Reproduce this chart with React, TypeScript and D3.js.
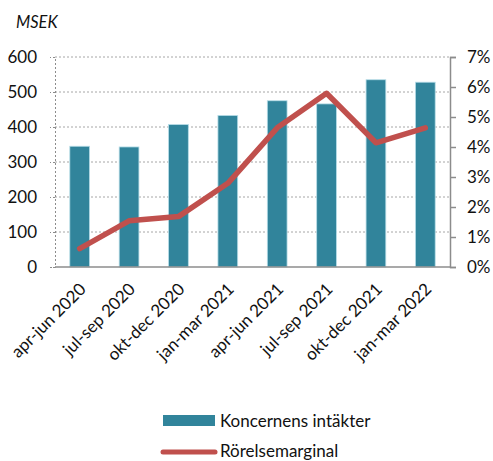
import React, {useEffect, useRef} from 'react';
import * as d3 from 'd3';

const categories = ['apr-jun 2020', 'jul-sep 2020', 'okt-dec 2020', 'jan-mar 2021', 'apr-jun 2021', 'jul-sep 2021', 'okt-dec 2021', 'jan-mar 2022'];
const revenue = [345, 343, 407, 433, 475, 466, 535, 528];
const margin = [0.61, 1.54, 1.68, 2.79, 4.64, 5.79, 4.14, 4.64];
const leftTicks = [0, 100, 200, 300, 400, 500, 600];
const rightTicks = [0, 1, 2, 3, 4, 5, 6, 7];

const W = 493;
const H = 461;
const FONT = 'Lato, "Open Sans", sans-serif';

const App: React.FC = () => {
    const svgRef = useRef<SVGSVGElement>(null);

    useEffect(() => {
        const svg = d3.select(svgRef.current);
        svg.selectAll('*').remove();

        const left = 55, right = 450, top = 57, bottom = 267;

        const x = d3.scaleBand<string>().domain(categories).range([left, right]).paddingInner(0.6).paddingOuter(0.3);
        const xc = (c: string) => (x(c) ?? 0) + x.bandwidth() / 2;
        const y = d3.scaleLinear().domain([0, 600]).range([bottom, top]);
        const y2 = d3.scaleLinear().domain([0, 7]).range([bottom, top]);

        // grid
        svg.append('g')
            .selectAll('line')
            .data(leftTicks.filter(t => t > 0))
            .enter().append('line')
            .attr('x1', left).attr('x2', right)
            .attr('y1', d => y(d)).attr('y2', d => y(d))
            .attr('stroke', '#a6a6a6')
            .attr('stroke-width', 1)
            .attr('stroke-dasharray', '2,2');

        // left axis (dotted)
        const gl = svg.append('g').attr('transform', `translate(${left},0)`)
            .call(d3.axisLeft(y).tickValues(leftTicks).tickSize(5).tickPadding(13));
        gl.selectAll('line, path').attr('stroke', '#8c8c8c').attr('stroke-dasharray', '2,2');
        gl.selectAll('text').style('font-family', FONT).style('font-size', '17px').attr('fill', '#111');

        // right axis
        const gr = svg.append('g').attr('transform', `translate(${right},0)`)
            .call(d3.axisRight(y2).tickValues(rightTicks).tickSize(6).tickPadding(11).tickFormat(d => `${d}%`));
        gr.selectAll('line, path').attr('stroke', '#8c8c8c').attr('stroke-width', 1.5);
        gr.selectAll('text').style('font-family', FONT).style('font-size', '17px').attr('fill', '#111');

        // bars
        svg.append('g')
            .selectAll('rect')
            .data(revenue)
            .enter().append('rect')
            .attr('x', (d, i) => x(categories[i]) ?? 0)
            .attr('y', d => y(d))
            .attr('width', x.bandwidth())
            .attr('height', d => bottom - y(d))
            .attr('fill', '#31849b')
            .attr('stroke', '#b7dde8')
            .attr('stroke-width', 0.8);

        // bottom axis line
        svg.append('line')
            .attr('x1', left).attr('x2', right)
            .attr('y1', bottom).attr('y2', bottom)
            .attr('stroke', '#8c8c8c').attr('stroke-width', 1.5);

        // x labels
        svg.append('g')
            .selectAll('text')
            .data(categories)
            .enter().append('text')
            .attr('transform', d => `translate(${xc(d) + 3},${bottom + 19}) rotate(-45)`)
            .attr('text-anchor', 'end')
            .attr('dy', '0.35em')
            .style('font-family', FONT)
            .style('font-size', '17px')
            .attr('fill', '#111')
            .text(d => d);

        // line
        const line = d3.line<number>()
            .x((d, i) => xc(categories[i]))
            .y(d => y2(d));
        svg.append('path')
            .datum(margin)
            .attr('fill', 'none')
            .attr('stroke', '#c0504d')
            .attr('stroke-width', 5.5)
            .attr('stroke-linecap', 'round')
            .attr('stroke-linejoin', 'round')
            .attr('d', line);

        // unit label
        svg.append('text')
            .attr('x', 16).attr('y', 28)
            .style('font-family', FONT)
            .style('font-size', '16.5px')
            .style('font-style', 'italic')
            .attr('fill', '#111')
            .text('MSEK');

        // legend
        const lg = svg.append('g');
        lg.append('rect').attr('x', 163).attr('y', 415).attr('width', 52).attr('height', 11).attr('fill', '#31849b');
        lg.append('text').attr('x', 220).attr('y', 427)
            .style('font-family', FONT).style('font-size', '17px').attr('fill', '#111')
            .text('Koncernens intäkter');
        lg.append('line').attr('x1', 163).attr('x2', 215).attr('y1', 452).attr('y2', 452)
            .attr('stroke', '#c0504d').attr('stroke-width', 5).attr('stroke-linecap', 'round');
        lg.append('text').attr('x', 220).attr('y', 457)
            .style('font-family', FONT).style('font-size', '17px').attr('fill', '#111')
            .text('Rörelsemarginal');
    }, []);

    return (
        <svg ref={svgRef} width={W} height={H} style={{position: 'absolute', left: 0, top: 0, background: '#fff'}}/>
    );
};

export default App;
